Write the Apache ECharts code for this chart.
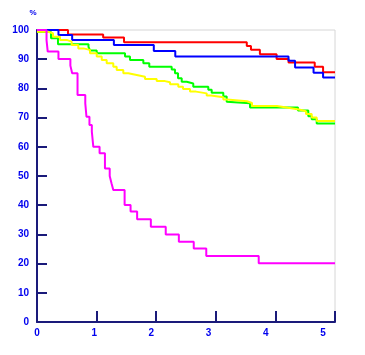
<!DOCTYPE html>
<html>
<head>
<meta charset="utf-8">
<script src="https://cdn.jsdelivr.net/npm/echarts@6/dist/echarts.min.js"></script>
<style>html,body{margin:0;padding:0;background:#fff}#c{width:365px;height:355px}</style>
</head>
<body>
<div id="c"></div>
<script>
var xTicks = [0, 1, 2, 3, 4, 5];
var yTicks = [0, 10, 20, 30, 40, 50, 60, 70, 80, 90, 100];

var redT = [0, 0.52, 1.11, 1.46, 3.52, 3.59, 3.74, 4.02, 4.22, 4.66, 4.80, 5];
var redS = [100, 98.5, 97.4, 95.8, 94.5, 93.2, 91.7, 90.1, 88.9, 87.4, 85.5, 85.5];

var blueT = [0, 0.36, 0.59, 1.29, 1.96, 2.32, 4.22, 4.33, 4.64, 4.80, 5];
var blueS = [100, 98.3, 96.6, 94.9, 92.8, 90.9, 89.5, 87.2, 85.4, 83.7, 83.7];

var greenT = [0, 0.235, 0.352, 0.864, 0.889, 1.002, 1.477, 1.560, 1.784, 1.884, 2.260, 2.315, 2.366, 2.428, 2.512, 2.622, 2.874, 2.931, 3.126, 3.183, 3.205, 3.574, 4.379, 4.552, 4.609, 4.693, 5];
var greenS = [99.3, 97.2, 95.1, 94.2, 93.0, 92.0, 90.9, 89.7, 88.6, 87.4, 86.5, 85.2, 83.5, 82.3, 81.7, 80.6, 79.5, 78.5, 77.2, 75.4, 74.9, 73.5, 72.4, 70.5, 69.4, 68.0, 68.0];

var yellowT = [0, 0.185, 0.268, 0.386, 0.498, 0.582, 0.693, 0.777, 0.889, 1.002, 1.086, 1.169, 1.280, 1.337, 1.448, 1.532, 1.673, 1.812, 2.008, 2.148, 2.232, 2.371, 2.450, 2.567, 2.668, 2.847, 2.919, 3.126, 3.188, 3.523, 3.607, 4.027, 4.211, 4.396, 4.513, 4.609, 4.693, 5];
var yellowS = [99.4, 98.9, 97.7, 96.6, 96.0, 94.9, 93.7, 93.2, 92.0, 90.9, 89.7, 88.6, 87.4, 86.3, 85.2, 84.6, 84.0, 83.2, 82.5, 82.1, 81.4, 80.6, 79.8, 78.9, 78.3, 77.6, 77.0, 76.2, 75.6, 75.0, 74.0, 73.4, 72.8, 72.2, 71.2, 70.0, 68.8, 68.8];

var magentaT = [0, 0.16, 0.18, 0.36, 0.56, 0.59, 0.68, 0.81, 0.83, 0.88, 0.92, 0.945, 1.05, 1.14, 1.22, 1.25, 1.28, 1.47, 1.57, 1.68, 1.91, 2.16, 2.38, 2.63, 2.84, 3.72, 5];
var magentaS = [100, 96.5, 92.6, 90.1, 87.8, 85.2, 77.7, 74.9, 70.3, 67.5, 65.2, 60.0, 57.8, 52.6, 50.0, 47.5, 45.2, 40.1, 37.8, 35.2, 32.6, 30.0, 27.5, 25.2, 22.6, 20.1, 20.1];

function pairs(t, s) { return t.map(function (v, i) { return [v, s[i]]; }); }
function series(name, color, t, s, z) {
  return { name: name, type: 'line', step: 'end', data: pairs(t, s), symbol: 'none',
    lineStyle: { color: color, width: 2 }, z: z, animation: false };
}

var axisCol = '#1a1a7a';
var labCol = '#0000ee';
var labFont = { color: labCol, fontSize: 10, fontWeight: 'bold', fontFamily: 'Liberation Sans, Arial, sans-serif' };

var chart = echarts.init(document.getElementById('c'), null, { renderer: 'canvas' });
chart.setOption({
  backgroundColor: '#ffffff',
  animation: false,
  grid: { left: 37, right: 30, top: 30, bottom: 33, show: true, borderColor: '#d6d6d6', borderWidth: 1, backgroundColor: 'transparent' },
  xAxis: [{
    type: 'value', min: xTicks[0], max: xTicks[xTicks.length - 1], interval: 1,
    axisLine: { show: true, lineStyle: { color: axisCol, width: 2 } },
    axisTick: { show: true, inside: true, length: 11, lineStyle: { color: axisCol, width: 2 } },
    axisLabel: { show: false },
    splitLine: { show: false }
  }, {
    type: 'value', position: 'bottom', min: 0, max: 5.21, interval: 1,
    axisLine: { show: false }, axisTick: { show: false }, splitLine: { show: false },
    axisLabel: Object.assign({ margin: 6, formatter: function (v) { return xTicks.indexOf(v) >= 0 ? String(v) : ''; } }, labFont)
  }],
  yAxis: {
    type: 'value', min: yTicks[0], max: yTicks[yTicks.length - 1], interval: 10,
    name: '%', nameLocation: 'end', nameGap: 13,
    nameTextStyle: { color: labCol, fontSize: 8, fontWeight: 'bold', padding: [0, 8, 0, 0] },
    axisLine: { show: true, lineStyle: { color: axisCol, width: 2 } },
    axisTick: { show: true, inside: true, length: 10, lineStyle: { color: axisCol, width: 2 } },
    axisLabel: Object.assign({ margin: 8 }, labFont),
    splitLine: { show: false }
  },
  series: [
    series('red', '#ff0000', redT, redS, 2),
    series('blue', '#0000ff', blueT, blueS, 3),
    series('green', '#00ff00', greenT, greenS, 4),
    series('yellow', '#ffff00', yellowT, yellowS, 5),
    series('magenta', '#ff00ff', magentaT, magentaS, 6)
  ]
});
</script>
</body>
</html>
